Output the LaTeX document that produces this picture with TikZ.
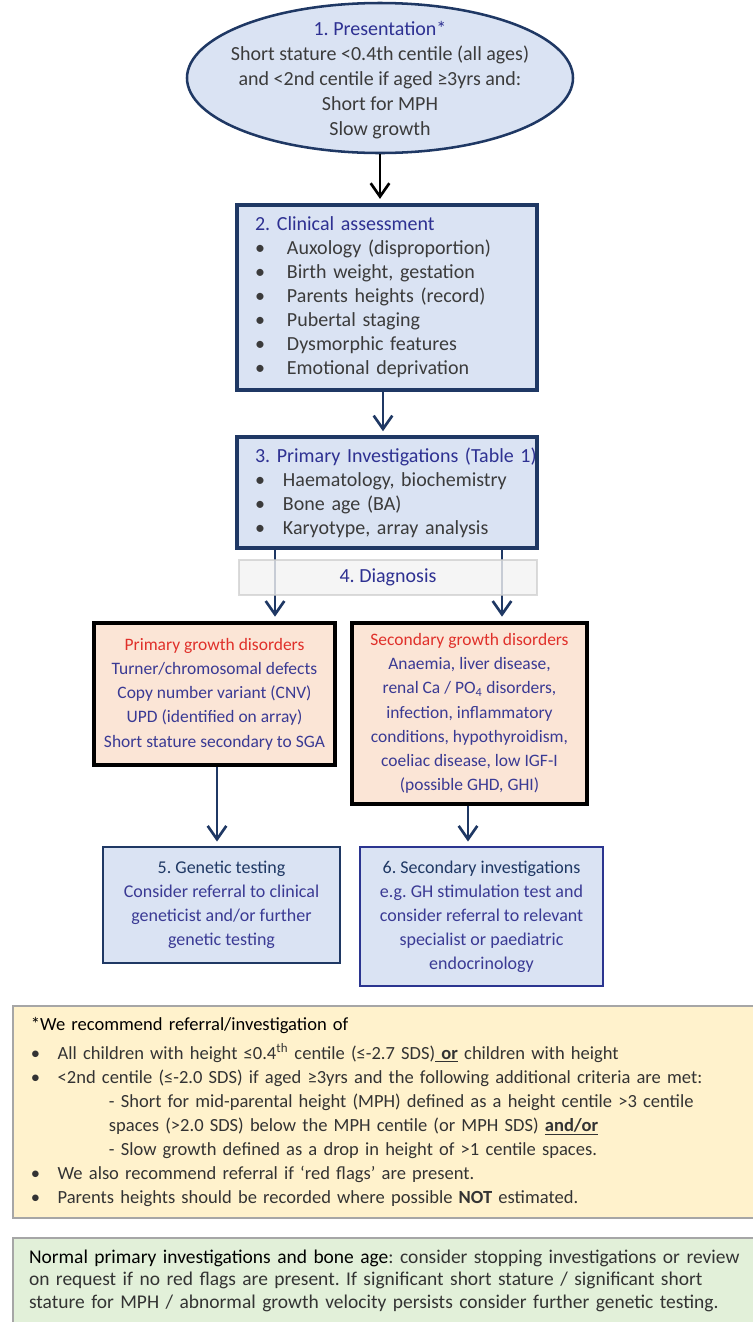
\documentclass[tikz,border=0pt]{standalone}
\usepackage{fontspec}
\setmainfont{Carlito}
\frenchspacing
\usetikzlibrary{arrows.meta,positioning,shapes.geometric}
\tikzset{>={Straight Barb[length=10pt,width=14pt]}}

\definecolor{boxblue}{HTML}{DAE3F3}
\definecolor{navy}{HTML}{1F3864}
\definecolor{ttlblue}{HTML}{2E3192}
\definecolor{bodygray}{HTML}{3B3B3B}
\definecolor{bodyblue}{HTML}{3A3A94}
\definecolor{disred}{HTML}{E0302A}
\definecolor{peach}{HTML}{FBE5D6}
\definecolor{notefill}{HTML}{FFF2CC}
\definecolor{normfill}{HTML}{E2F0D9}
\definecolor{framegray}{HTML}{A6A6A6}
\definecolor{sixblue}{HTML}{2B3590}

\newcommand{\bul}[1][24pt]{\makebox[#1][l]{\textbullet}}
\newcommand{\boxtitle}[1]{\makebox[198pt][l]{\color{ttlblue}#1}}

\begin{document}
\begin{tikzpicture}[x=0.75pt, y=0.75pt, font=\fontsize{15}{18}\selectfont,
	presshape/.style={
		ellipse,
		draw=navy,
		line width=1.9pt,
		fill=boxblue,
		minimum width=289.5pt,
		minimum height=112.5pt,
		inner sep=0pt
	},
	stepbox/.style={rectangle, draw=navy, fill=boxblue, inner xsep=13.5pt, inner ysep=0pt, align=left, text=bodygray},
	disbox/.style={rectangle, draw=black, line width=3.5pt, fill=peach, align=center, text=bodyblue, inner sep=0pt,
	               font=\fontsize{13.1}{18.2}\selectfont},
	resultbox/.style={rectangle, fill=boxblue, line width=2.2pt, align=center, text=bodyblue, inner sep=0pt,
	                  font=\fontsize{13.5}{18}\selectfont},
	notebox/.style={rectangle, draw=framegray, line width=1.5pt, align=left, text=black!80},
	flow/.style={->, line width=2pt, draw=navy, shorten >=3pt}
	]
	\useasboundingbox (0,0) rectangle (753,-1322);

	\node[presshape]                                          (pres)     at (380,-78) {};
	\node[align=center, text=bodygray, font=\fontsize{15}{18.75}\selectfont]
	                                                          (presText) at (380,-80)
		{{\color{ttlblue}1. Presentation*}\\
		 Short stature <0.4th centile (all ages)\\
		 and <2nd centile if aged ≥3yrs and:\\
		 Short for MPH\\
		 Slow growth};

	\node[stepbox, line width=3.2pt, text width=198pt, minimum height=138.75pt] (clin) at (387,-297.5)
		{\boxtitle{2. Clinical assessment}\\
		 \bul Auxology (disproportion)\\
		 \bul Birth weight, gestation\\
		 \bul Parents heights (record)\\
		 \bul Pubertal staging\\
		 \bul Dysmorphic features\\
		 \bul Emotional deprivation};

	\node[stepbox, line width=2.6pt, text width=198pt, minimum height=83.25pt] (inv) at (387,-492.5)
		{\boxtitle{3. Primary Investigations (Table 1)}\\
		 \bul[21pt]Haematology, biochemistry\\
		 \bul[21pt]Bone age (BA)\\
		 \bul[21pt]Karyotype, array analysis};

	\node[disbox, minimum width=180.75pt, minimum height=106.5pt] (prim) at (214.5,-694)
		{{\color{disred}Primary growth disorders}\\
		 Turner/chromosomal defects\\
		 Copy number variant (CNV)\\
		 UPD (identified on array)\\
		 Short stature secondary to SGA};

	\node[disbox, minimum width=176.25pt, minimum height=135.75pt] (sec) at (469.5,-713.5)
		{{\color{disred}Secondary growth disorders}\\
		 Anaemia, liver disease,\\
		 renal Ca / PO\textsubscript{4} disorders,\\
		 infection, inflammatory\\
		 conditions, hypothyroidism,\\
		 coeliac disease, low IGF-I\\
		 (possible GHD, GHI)};

	\node[resultbox, draw=navy, minimum width=177.75pt, minimum height=87pt] (gen) at (221.5,-905)
		{{\color{navy}5. Genetic testing}\\
		 Consider referral to clinical\\
		 geneticist and/or further\\
		 genetic testing};

	\node[resultbox, draw=sixblue, minimum width=182.25pt, minimum height=104.25pt] (sinv) at (481.5,-916.5)
		{{\color{navy}6. Secondary investigations}\\
		 e.g. GH stimulation test and\\
		 consider referral to relevant\\
		 specialist or paediatric\\
		 endocrinology};

	\draw[flow, draw=black] (pres.south)     -- (pres.south |- clin.north);
	\draw[flow]             (383,0 |- clin.south) -- (383,0 |- inv.north);
	\draw[flow]             (275,0 |- inv.south)  -- (275,0 |- prim.north);
	\draw[flow]             (502,0 |- inv.south)  -- (502,0 |- sec.north);
	\draw[flow]             (217,0 |- prim.south) -- (217,0 |- gen.north);
	\draw[flow]             (468,0 |- sec.south)  -- (468,0 |- sinv.north);

	\node[draw=black!20, draw opacity=0.7, fill=black!5, fill opacity=0.8, text opacity=1, text=ttlblue,
	      line width=0.8pt, minimum width=223.5pt, minimum height=26.25pt] (diag) at (388,-577.5) {4. Diagnosis};

	\node[notebox, fill=notefill, anchor=north west, text width=534pt, inner xsep=13.5pt,
	      minimum height=159pt, font=\fontsize{13.9}{18}\selectfont] (recom) at (12,-1005)
		{{\color{black}*We recommend referral/investigation of}\\[4pt]
		 \bul[20pt]All children with height ≤0.4\textsuperscript{th} centile (≤-2.7 SDS)\underline{\textbf{\ or}}\ children with height\\
		 \bul[20pt]<2nd centile (≤-2.0 SDS) if aged ≥3yrs and the following additional criteria are met:\\
		 \hspace*{58.5pt}- Short for mid-parental height (MPH) defined as a height centile >3 centile\\
		 \hspace*{58.5pt}spaces (>2.0 SDS) below the MPH centile (or MPH SDS) \underline{\textbf{and/or}}\\
		 \hspace*{58.5pt}- Slow growth defined as a drop in height of >1 centile spaces.\\
		 \bul[20pt]We also recommend referral if ‘red flags’ are present.\\
		 \bul[20pt]Parents heights should be recorded where possible \textbf{NOT} estimated.};

	\node[notebox, fill=normfill, anchor=north west, text width=537pt, inner xsep=12pt, inner ysep=9pt,
	      font=\fontsize{14.6}{16.8}\selectfont] (normal) at (12,-1237)
		{{\color{black}Normal primary investigations and bone age}: consider stopping investigations or review\\
		 on request if no red flags are present. If significant short stature / significant short\\
		 stature for MPH / abnormal growth velocity persists consider further genetic testing.};
\end{tikzpicture}
\end{document}
